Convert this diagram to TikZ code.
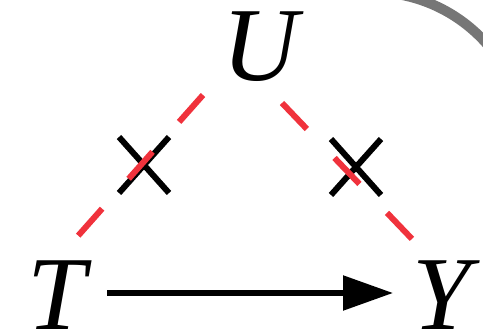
\documentclass[tikz,border=0pt]{standalone}
\usepackage{fontspec}
\setmainfont{Liberation Serif}
\usetikzlibrary{arrows.meta,shapes.misc,calc}
\definecolor{dashred}{RGB}{240,50,60}
\definecolor{arcgray}{RGB}{118,118,118}
\tikzset{
  var/.style={inner sep=0pt, font=\fontsize{105}{105}\selectfont\itshape, text height=70pt, text depth=0pt},
  confound/.style={dashred, line width=6pt, dash pattern=on 36pt off 40pt},
  blocked/.style={cross out, draw=black, line width=6pt, minimum width=44pt, minimum height=50pt, inner sep=0pt},
  causal/.style={line width=5.5pt, -{Triangle[length=50pt,width=34pt]}},
}
\begin{document}
\begin{tikzpicture}[x=1pt,y=1pt]
\useasboundingbox (0,0) rectangle (483,335);
\clip (0,0) rectangle (483,335);
\fill[white] (0,0) rectangle (483,335);
% gray arc at the top right
\draw[arcgray, line width=10pt] (372,190) ++(85:153) arc[start angle=85, end angle=0, radius=153];
% nodes
\node[var] (U) at (260,289) {U};
\node[var] (T) at (57,40) {T};
\node[var] (Y) at (442,40) {Y};
% crosses
\node[blocked] (xl) at (144,170) {};
\node[blocked] (xr) at (356,168) {};
% dashed confounding lines
\draw[confound] ($(U.center)+(-57,-49)$) -- ($(T.center)+(20,58)$);
\draw[confound] ($(U.center)+(22,-57)$) -- ($(Y.center)+(-29,55)$);
% causal arrow
\draw[causal, shorten <=50pt, shorten >=49pt] ([yshift=2pt]T.center) -- ([yshift=2pt]Y.center);
\end{tikzpicture}
\end{document}
